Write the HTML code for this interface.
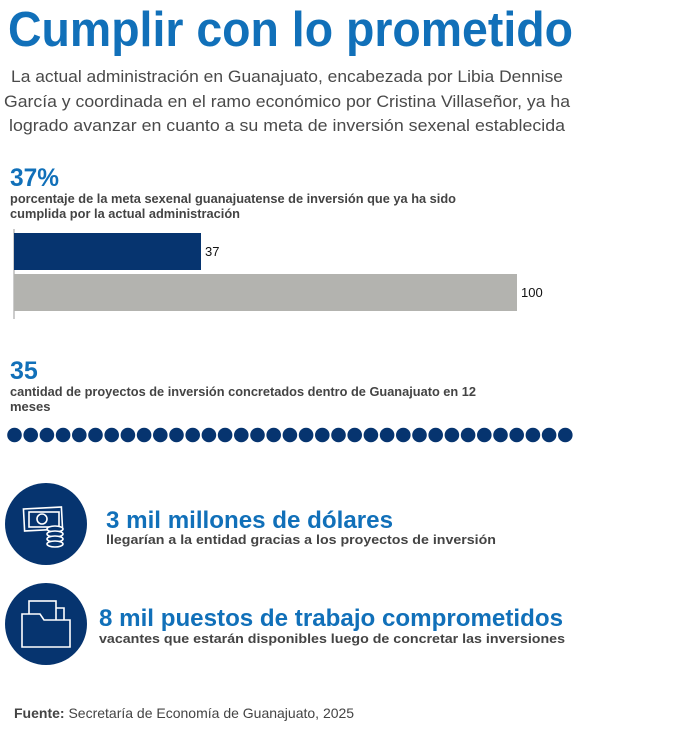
<!DOCTYPE html>
<html><head><meta charset="utf-8"><style>
html,body{margin:0;padding:0;background:#fff;}
svg{display:block;font-family:"Liberation Sans",sans-serif;}
</style></head><body>
<svg width="687" height="729" viewBox="0 0 687 729" xmlns="http://www.w3.org/2000/svg">
<text x="8" y="46" font-size="49" font-weight="bold" fill="#1170b9" textLength="565" lengthAdjust="spacingAndGlyphs">Cumplir con lo prometido</text>
<g font-size="17" fill="#4a4a4a" text-anchor="middle">
<text x="287" y="82" textLength="552" lengthAdjust="spacingAndGlyphs">La actual administración en Guanajuato, encabezada por Libia Dennise</text>
<text x="287" y="107" textLength="566" lengthAdjust="spacingAndGlyphs">García y coordinada en el ramo económico por Cristina Villaseñor, ya ha</text>
<text x="287" y="131" textLength="556" lengthAdjust="spacingAndGlyphs">logrado avanzar en cuanto a su meta de inversión sexenal establecida</text>
</g>
<text x="10" y="186" font-size="25" font-weight="bold" fill="#1170b9" textLength="49" lengthAdjust="spacingAndGlyphs">37%</text>
<g font-size="13" font-weight="bold" fill="#444">
<text x="10" y="203" textLength="446" lengthAdjust="spacingAndGlyphs">porcentaje de la meta sexenal guanajuatense de inversión que ya ha sido</text>
<text x="10" y="218" textLength="230" lengthAdjust="spacingAndGlyphs">cumplida por la actual administración</text>
</g>
<line x1="14" y1="229" x2="14" y2="319" stroke="#bbb" stroke-width="1.5"/>
<rect x="14" y="233" width="187" height="37" fill="#06346f"/>
<rect x="14" y="274" width="503" height="37" fill="#b3b3af"/>
<text x="205" y="256" font-size="13" fill="#111">37</text>
<text x="521" y="297" font-size="13" fill="#111">100</text>
<text x="10" y="379" font-size="25" font-weight="bold" fill="#1170b9">35</text>
<g font-size="13" font-weight="bold" fill="#444">
<text x="10" y="396" textLength="466" lengthAdjust="spacingAndGlyphs">cantidad de proyectos de inversión concretados dentro de Guanajuato en 12</text>
<text x="10" y="411">meses</text>
</g>
<circle cx="46" cy="524" r="41" fill="#06346f"/>
<circle cx="46" cy="624" r="41" fill="#06346f"/>
<g fill="none" stroke="#fff" stroke-width="1.6">
<rect x="24" y="508" width="38" height="22" transform="rotate(-3 43 519)"/>
<rect x="29" y="512" width="30" height="15"/>
<circle cx="42" cy="519" r="5"/>
<ellipse cx="55" cy="529" rx="8" ry="3" fill="#06346f"/>
<ellipse cx="55" cy="534" rx="8" ry="3" fill="#06346f"/>
<ellipse cx="55" cy="539" rx="8" ry="3" fill="#06346f"/>
<ellipse cx="55" cy="544" rx="8" ry="3" fill="#06346f"/>
<rect x="29" y="601" width="27" height="30"/>
<path d="M56 608 H64 V636"/>
<path d="M22 614 H40 L44 620 H70 V647 H22 Z" fill="#06346f"/>
</g>
<text x="106" y="528" font-size="24" font-weight="bold" fill="#1170b9" textLength="287" lengthAdjust="spacingAndGlyphs">3 mil millones de dólares</text>
<text x="106" y="544" font-size="13" font-weight="bold" fill="#444" textLength="390" lengthAdjust="spacingAndGlyphs">llegarían a la entidad gracias a los proyectos de inversión</text>
<text x="99" y="626" font-size="24" font-weight="bold" fill="#1170b9" textLength="464" lengthAdjust="spacingAndGlyphs">8 mil puestos de trabajo comprometidos</text>
<text x="99" y="643" font-size="13" font-weight="bold" fill="#444" textLength="466" lengthAdjust="spacingAndGlyphs">vacantes que estarán disponibles luego de concretar las inversiones</text>
<text x="14" y="718" font-size="14" fill="#444"><tspan font-weight="bold">Fuente:</tspan> Secretaría de Economía de Guanajuato, 2025</text>
<g fill="#06346f">
<circle cx="14.5" cy="435" r="7.3"/><circle cx="30.7" cy="435" r="7.3"/><circle cx="46.9" cy="435" r="7.3"/><circle cx="63.1" cy="435" r="7.3"/><circle cx="79.3" cy="435" r="7.3"/><circle cx="95.5" cy="435" r="7.3"/><circle cx="111.7" cy="435" r="7.3"/><circle cx="127.9" cy="435" r="7.3"/><circle cx="144.1" cy="435" r="7.3"/><circle cx="160.3" cy="435" r="7.3"/><circle cx="176.5" cy="435" r="7.3"/><circle cx="192.7" cy="435" r="7.3"/><circle cx="208.9" cy="435" r="7.3"/><circle cx="225.1" cy="435" r="7.3"/><circle cx="241.3" cy="435" r="7.3"/><circle cx="257.5" cy="435" r="7.3"/><circle cx="273.7" cy="435" r="7.3"/><circle cx="289.9" cy="435" r="7.3"/><circle cx="306.1" cy="435" r="7.3"/><circle cx="322.3" cy="435" r="7.3"/><circle cx="338.5" cy="435" r="7.3"/><circle cx="354.7" cy="435" r="7.3"/><circle cx="370.9" cy="435" r="7.3"/><circle cx="387.1" cy="435" r="7.3"/><circle cx="403.3" cy="435" r="7.3"/><circle cx="419.5" cy="435" r="7.3"/><circle cx="435.7" cy="435" r="7.3"/><circle cx="451.9" cy="435" r="7.3"/><circle cx="468.1" cy="435" r="7.3"/><circle cx="484.3" cy="435" r="7.3"/><circle cx="500.5" cy="435" r="7.3"/><circle cx="516.7" cy="435" r="7.3"/><circle cx="532.9" cy="435" r="7.3"/><circle cx="549.1" cy="435" r="7.3"/><circle cx="565.3" cy="435" r="7.3"/>
</g>
</svg>
</body></html>
